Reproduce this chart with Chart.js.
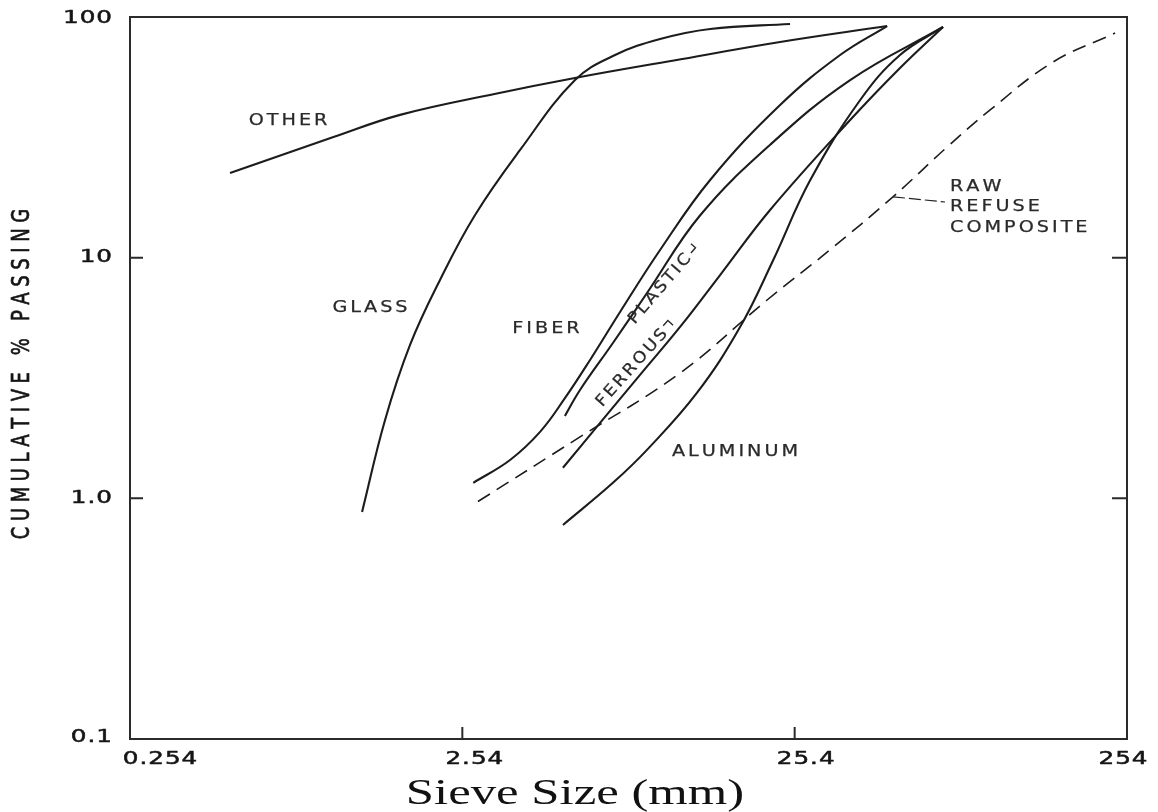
<!DOCTYPE html>
<html>
<head>
<meta charset="utf-8">
<title>Sieve analysis of refuse components</title>
<script src="https://cdn.jsdelivr.net/npm/chart.js@4"></script>
<style>
  html, body { margin: 0; background: #fff; }
  canvas { display: block; }
</style>
</head>
<body>
<canvas id="sieve" width="1158" height="812"></canvas>
<script>
// sieve opening (mm) and cumulative % passing for each component
var otherMm = [0.508, 1.04, 1.65, 3.2, 5.54, 11.0, 22.96, 48.2];
var otherPct = [22.5, 31.7, 39.2, 48, 55.8, 66, 78.7, 91.7];

var glassMm = [1.268, 1.487, 1.768, 2.176, 2.774, 3.79, 5.545, 7.318, 9.995, 14.14, 24.6];
var glassPct = [0.878, 2.117, 4.338, 8.08, 15.04, 28.02, 54.7, 69.5, 81.0, 89.2, 93.5];

var fiberMm = [2.74, 3.535, 4.352, 5.176, 6.154, 7.576, 9.995, 14.14, 22.96, 34.8, 48.2];
var fiberPct = [1.16, 1.443, 1.888, 2.613, 3.758, 5.948, 10.76, 21.03, 43.1, 69.5, 91.7];

var plasticMm = [5.17, 5.74, 7.21, 9.13, 13.2, 21.4, 37.3, 71.0];
var plasticPct = [2.20, 2.82, 4.42, 7.13, 15.0, 29.4, 54.7, 90.9];

var ferrousMm = [5.1, 6.596, 8.70, 11.48, 15.15, 21.42, 37.3, 52.7, 71.0];
var ferrousPct = [1.34, 2.057, 3.257, 5.154, 8.47, 15.78, 37.3, 61.4, 90.9];

var aluminumMm = [5.1, 7.21, 9.13, 12.9, 17.4, 21.9, 28.3, 40.0, 52.7, 71.0];
var aluminumPct = [0.775, 1.16, 1.59, 2.74, 5.15, 9.78, 21.0, 45.2, 69.5, 90.9];

var rawMm = [2.83, 5.74, 11.5, 20.98, 32.5, 50.2, 73.0, 98.4, 152.2, 233.9];
var rawPct = [0.97, 1.80, 3.32, 6.67, 10.8, 17.9, 28.8, 41.1, 65.0, 85.8];

var xTickValues = [0.254, 2.54, 25.4, 254];
var xTickLabels = ['0.254', '2.54', '25.4', '254'];
var yTickValues = [0.1, 1, 10, 100];
var yTickLabels = ['0.1', '1.0', '10', '100'];

var ink = '#1c1c1c';

function curve(label, mm, pct, dashed) {
    return {
        label: label,
        data: mm.map(function (v, i) { return { x: v, y: pct[i] }; }),
        showLine: true,
        borderColor: ink,
        borderWidth: dashed ? 1.6 : 2.1,
        borderDash: dashed ? [14, 8] : [],
        pointRadius: 0,
        tension: 0.4,
        fill: false
    };
}

// letter-spaced, stretched lettering like the stencil text on the drawing
function letters(ctx, text, x, y, o) {
    var size = o.size || 15;
    var sx = o.sx || 1, sy = o.sy || 1, gap = o.spacing || 0;
    ctx.save();
    ctx.font = 'normal ' + size + 'px ' + (o.family || '"DejaVu Sans", sans-serif');
    ctx.fillStyle = o.color || '#222';
    ctx.strokeStyle = o.color || '#222';
    ctx.lineWidth = o.heavy || 0;
    ctx.lineJoin = 'round';
    ctx.textBaseline = 'middle';
    ctx.textAlign = 'left';
    var widths = text.split('').map(function (ch) { return ctx.measureText(ch).width; });
    var total = widths.reduce(function (a, b) { return a + b; }, 0) * sx + gap * (text.length - 1);
    var start = o.align === 'left' ? 0 : o.align === 'right' ? -total : -total / 2;
    ctx.translate(x, y);
    ctx.rotate(o.angle || 0);
    ctx.scale(sx, sy);
    var cx = start / sx;
    text.split('').forEach(function (ch, i) {
        ctx.fillText(ch, cx, 0);
        if (o.heavy) ctx.strokeText(ch, cx, 0);
        cx += widths[i] + gap / sx;
    });
    ctx.restore();
    return total;
}

var paper = {
    id: 'paper',
    afterDatasetsDraw: function (chart) {
        var ctx = chart.ctx, a = chart.chartArea;
        var x = chart.scales.x, y = chart.scales.y;

        // frame
        ctx.save();
        ctx.strokeStyle = '#2b2b2b';
        ctx.lineWidth = 2;
        ctx.strokeRect(a.left, a.top, a.right - a.left, a.bottom - a.top);

        // inward tick marks on the inner decades
        ctx.beginPath();
        yTickValues.slice(1, -1).forEach(function (v) {
            var py = y.getPixelForValue(v);
            ctx.moveTo(a.left, py); ctx.lineTo(a.left + 13, py);
            ctx.moveTo(a.right, py); ctx.lineTo(a.right - 15, py);
        });
        xTickValues.slice(1, -1).forEach(function (v) {
            var px = x.getPixelForValue(v);
            ctx.moveTo(px, a.bottom); ctx.lineTo(px, a.bottom - 12);
        });
        ctx.stroke();
        ctx.restore();

        // tick labels
        var num = { size: 17, sx: 1.45, spacing: 1, color: '#151515', heavy: 0.5 };
        var xShift = [30, 12, 11, -4];
        xTickValues.forEach(function (v, i) {
            letters(ctx, xTickLabels[i], x.getPixelForValue(v) + xShift[i], a.bottom + 21, num);
        });
        yTickValues.forEach(function (v, i) {
            var py = Math.min(Math.max(y.getPixelForValue(v), a.top + 2), a.bottom - 1);
            letters(ctx, yTickLabels[i], a.left - 18, py, Object.assign({ align: 'right' }, num));
        });

        // axis titles
        letters(ctx, 'CUMULATIVE % PASSING', 22, 374, {
            size: 18, spacing: 5.6, sy: 1.4, angle: -Math.PI / 2, color: '#151515', heavy: 0.5
        });
        letters(ctx, 'Sieve Size (mm)', 575, 795, {
            size: 35, sx: 1.45, family: '"Liberation Serif", "Times New Roman", serif', color: '#111'
        });

        // curve names
        var tag = { size: 16, sx: 1.2, spacing: 3, heavy: 0.25, color: '#2a2a2a' };
        letters(ctx, 'OTHER', 288, 121, tag);
        letters(ctx, 'GLASS', 370, 308, tag);
        letters(ctx, 'FIBER', 546, 329, tag);
        letters(ctx, 'ALUMINUM', 735, 452, tag);
        letters(ctx, 'RAW', 950, 187, Object.assign({ align: 'left' }, tag));
        letters(ctx, 'REFUSE', 950, 207, Object.assign({ align: 'left' }, tag));
        letters(ctx, 'COMPOSITE', 950, 228, Object.assign({ align: 'left' }, tag));

        var slant = { size: 16, sx: 1.1, spacing: 2.5, heavy: 0.25, color: '#2a2a2a' };
        var wp = letters(ctx, 'PLASTIC', 660, 289, Object.assign({ angle: -0.86 }, slant));
        var wf = letters(ctx, 'FERROUS', 632, 368, Object.assign({ angle: -0.84 }, slant));

        // little leader hooks after the slanted names
        ctx.save();
        ctx.strokeStyle = '#2a2a2a';
        ctx.lineWidth = 1.4;
        ctx.translate(660, 289); ctx.rotate(-0.86);
        ctx.beginPath();
        ctx.moveTo(wp / 2 + 4, 0); ctx.lineTo(wp / 2 + 11, 0); ctx.lineTo(wp / 2 + 11, -6);
        ctx.stroke();
        ctx.restore();
        ctx.save();
        ctx.strokeStyle = '#2a2a2a';
        ctx.lineWidth = 1.4;
        ctx.translate(632, 368); ctx.rotate(-0.84);
        ctx.beginPath();
        ctx.moveTo(wf / 2 + 3, -5); ctx.lineTo(wf / 2 + 10, -5); ctx.lineTo(wf / 2 + 10, 2);
        ctx.stroke();
        ctx.restore();

        // leader from the composite curve to its name
        ctx.save();
        ctx.strokeStyle = '#222';
        ctx.lineWidth = 1.2;
        ctx.setLineDash([12, 4]);
        ctx.beginPath();
        ctx.moveTo(x.getPixelForValue(50.2), y.getPixelForValue(17.9));
        ctx.lineTo(905, 198);
        ctx.lineTo(945, 202);
        ctx.stroke();
        ctx.restore();
    }
};

new Chart(document.getElementById('sieve'), {
    type: 'scatter',
    data: {
        datasets: [
            curve('Other', otherMm, otherPct),
            curve('Glass', glassMm, glassPct),
            curve('Fiber', fiberMm, fiberPct),
            curve('Plastic', plasticMm, plasticPct),
            curve('Ferrous', ferrousMm, ferrousPct),
            curve('Aluminum', aluminumMm, aluminumPct),
            curve('Raw refuse composite', rawMm, rawPct, true)
        ]
    },
    options: {
        responsive: false,
        animation: false,
        devicePixelRatio: 1,
        layout: { padding: { left: 130, right: 31, top: 17, bottom: 73 } },
        scales: {
            x: { type: 'logarithmic', min: 0.254, max: 254, display: false },
            y: { type: 'logarithmic', min: 0.1, max: 100, display: false }
        },
        plugins: {
            legend: { display: false },
            tooltip: { enabled: false }
        }
    },
    plugins: [paper]
});
</script>
</body>
</html>
